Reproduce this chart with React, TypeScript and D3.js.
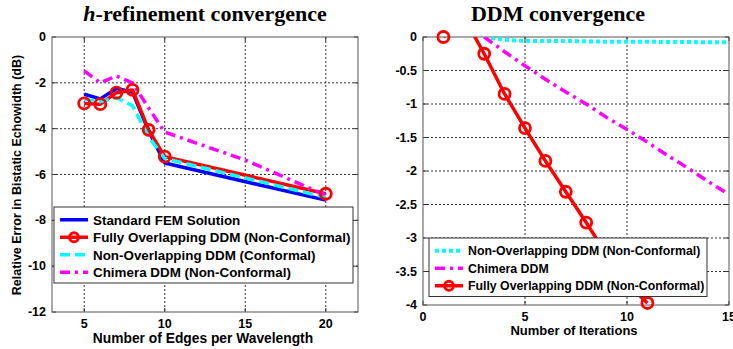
import React from 'react';
import * as d3 from 'd3';

// h-refinement data (x = edges per wavelength)
const hEdges = [5, 6, 7, 8, 9, 10, 20];
const femErr = [-2.5, -2.7, -2.25, -2.4, -4.1, -5.5, -7.12];
const fullyErr = [-2.9, -2.93, -2.43, -2.31, -4.05, -5.22, -6.84];
const nonOverlapErr = [-2.72, -2.82, -2.65, -3.0, -4.35, -5.3, -7.0];
const chimeraEdges = [5, 6, 7, 8, 9, 10, 15, 20];
const chimeraErr = [-1.48, -2.0, -1.7, -2.0, -3.1, -4.15, -5.37, -6.9];

// DDM convergence data (x = iterations)
const fullyIter = [1, 2, 3, 4, 5, 6, 7, 8, 9, 10, 11];
const fullyConv = [0, 0.3, -0.25, -0.85, -1.36, -1.85, -2.31, -2.77, -3.25, -3.68, -3.97];
const nonOverlapIter = [3, 4, 5, 6, 7, 8, 9, 10, 11, 12, 13, 14, 15];
const nonOverlapConv = [0, -0.04, -0.06, -0.06, -0.06, -0.065, -0.07, -0.07, -0.07, -0.075, -0.075, -0.08, -0.08];
const chimeraIter = [3, 4, 5, 6, 7, 8, 9, 10, 11, 12, 13, 14, 15];
const chimeraConv = [0, -0.22, -0.43, -0.63, -0.82, -1.0, -1.2, -1.38, -1.57, -1.77, -1.96, -2.16, -2.35];

const leftXTicks = [5, 10, 15, 20];
const leftYTicks = [0, -2, -4, -6, -8, -10, -12];
const rightXTicks = [0, 5, 10, 15];
const rightYTicks = [0, -0.5, -1, -1.5, -2, -2.5, -3, -3.5, -4];

const BLUE = '#0000ff';
const RED = '#ff0000';
const CYAN = '#00ffff';
const MAGENTA = '#ff00ff';
const sans = '"Liberation Sans", Arial, sans-serif';
const serif = '"Liberation Serif", "Times New Roman", serif';

type Series = { xs: number[]; ys: number[]; color: string; dash?: string; width?: number; marker?: boolean };

function Panel(props: {
  id: string;
  x: d3.ScaleLinear<number, number>;
  y: d3.ScaleLinear<number, number>;
  xTicks: number[];
  yTicks: number[];
  series: Series[];
}) {
  const { id, x, y, xTicks, yTicks, series } = props;
  const [x0, x1] = x.range();
  const [y1, y0] = y.range();
  const line = d3.line<[number, number]>().x((d) => x(d[0])).y((d) => y(d[1]));
  const [yMin, yMax] = y.domain();
  return (
    <g>
      <defs>
        <clipPath id={id}>
          <rect x={x0} y={y0} width={x1 - x0} height={y1 - y0} />
        </clipPath>
      </defs>
      <rect x={x0} y={y0} width={x1 - x0} height={y1 - y0} fill="#fff" />
      {xTicks.filter((t) => x(t) > x0 + 1 && x(t) < x1 - 1).map((t) => (
        <line key={'gx' + t} x1={x(t)} x2={x(t)} y1={y0} y2={y1} stroke="#333" strokeWidth={1} strokeDasharray="2,2" />
      ))}
      {yTicks.filter((t) => y(t) > y0 + 1 && y(t) < y1 - 1).map((t) => (
        <line key={'gy' + t} x1={x0} x2={x1} y1={y(t)} y2={y(t)} stroke="#333" strokeWidth={1} strokeDasharray="2,2" />
      ))}
      {xTicks.map((t) => (
        <g key={'tx' + t}>
          <line x1={x(t)} x2={x(t)} y1={y1} y2={y1 - 4} stroke="#333" />
          <line x1={x(t)} x2={x(t)} y1={y0} y2={y0 + 4} stroke="#333" />
          <text x={x(t)} y={y1 + 16} textAnchor="middle" fontFamily={sans} fontWeight="bold" fontSize={12.5}>
            {t}
          </text>
        </g>
      ))}
      {yTicks.map((t) => (
        <g key={'ty' + t}>
          <line x1={x0} x2={x0 + 4} y1={y(t)} y2={y(t)} stroke="#333" />
          <line x1={x1} x2={x1 - 4} y1={y(t)} y2={y(t)} stroke="#333" />
          <text x={x0 - 6} y={y(t) + 4} textAnchor="end" fontFamily={sans} fontWeight="bold" fontSize={12.5}>
            {t}
          </text>
        </g>
      ))}
      <rect x={x0} y={y0} width={x1 - x0} height={y1 - y0} fill="none" stroke="#555" strokeWidth={1} />
      <g clipPath={`url(#${id})`}>
        {series.map((s, i) => (
          <path
            key={'s' + i}
            d={line(s.xs.map((v, j) => [v, s.ys[j]] as [number, number])) || ''}
            fill="none"
            stroke={s.color}
            strokeWidth={s.width ?? 3.5}
            strokeDasharray={s.dash}
            strokeLinejoin="round"
          />
        ))}
      </g>
      {series
        .filter((s) => s.marker)
        .map((s, i) =>
          s.xs.map((v, j) =>
            s.ys[j] >= yMin && s.ys[j] <= yMax ? (
              <circle key={'m' + i + '-' + j} cx={x(v)} cy={y(s.ys[j])} r={5.5} fill="none" stroke={s.color} strokeWidth={2.8} />
            ) : null
          )
        )}
    </g>
  );
}

function Legend(props: { x: number; y: number; w: number; rowH: number; fontSize: number; items: Series[]; labels: string[] }) {
  const { x, y, w, rowH, fontSize, items, labels } = props;
  const h = rowH * items.length + 6;
  return (
    <g>
      <rect x={x} y={y} width={w} height={h} fill="#fff" stroke="#333" strokeWidth={1} />
      {items.map((s, i) => {
        const cy = y + 3 + rowH * (i + 0.5) + 1;
        return (
          <g key={i}>
            <line x1={x + 6} x2={x + 34} y1={cy} y2={cy} stroke={s.color} strokeWidth={s.width ?? 3.5} strokeDasharray={s.dash} />
            {s.marker && <circle cx={x + 20} cy={cy} r={4.5} fill="none" stroke={s.color} strokeWidth={2.8} />}
            <text x={x + 39} y={cy + fontSize * 0.36} fontFamily={sans} fontWeight="bold" fontSize={fontSize}>
              {labels[i]}
            </text>
          </g>
        );
      })}
    </g>
  );
}

export default function App() {
  const lx = d3.scaleLinear().domain([3, 22]).range([52, 358]);
  const ly = d3.scaleLinear().domain([-12, 0]).range([312, 37]);
  const rx = d3.scaleLinear().domain([0, 15]).range([423, 729]);
  const ry = d3.scaleLinear().domain([-4, 0]).range([305, 37]);

  const fem: Series = { xs: hEdges, ys: femErr, color: BLUE };
  const fully: Series = { xs: hEdges, ys: fullyErr, color: RED, marker: true };
  const nonOv: Series = { xs: hEdges, ys: nonOverlapErr, color: CYAN, dash: '10,5' };
  const chim: Series = { xs: chimeraEdges, ys: chimeraErr, color: MAGENTA, dash: '10,5,3,5' };

  const rNon: Series = { xs: nonOverlapIter, ys: nonOverlapConv, color: CYAN, width: 4, dash: '4,3' };
  const rChim: Series = { xs: chimeraIter, ys: chimeraConv, color: MAGENTA, dash: '10,5,3,5' };
  const rFully: Series = { xs: fullyIter, ys: fullyConv, color: RED, marker: true };

  return (
    <svg width={733} height={349} style={{ position: 'absolute', left: 0, top: 0, background: '#fff' }}>
      <rect width={733} height={349} fill="#fff" />
      <text x={205} y={21} textAnchor="middle" fontFamily={serif} fontWeight="bold" fontSize={22}>
        <tspan fontStyle="italic">h</tspan>-refinement convergence
      </text>
      <text x={558} y={21} textAnchor="middle" fontFamily={serif} fontWeight="bold" fontSize={22}>
        DDM convergence
      </text>

      <Panel id="clipL" x={lx} y={ly} xTicks={leftXTicks} yTicks={leftYTicks} series={[fem, fully, nonOv, chim]} />
      <Legend
        x={54}
        y={207}
        w={299}
        rowH={17.5}
        fontSize={13.4}
        items={[fem, fully, nonOv, chim]}
        labels={['Standard FEM Solution', 'Fully Overlapping DDM (Non-Conformal)', 'Non-Overlapping DDM (Conformal)', 'Chimera DDM (Non-Conformal)']}
      />
      <text x={203} y={343} textAnchor="middle" fontFamily={sans} fontWeight="bold" fontSize={13.8}>
        Number of Edges per Wavelength
      </text>
      <text transform="translate(21,175) rotate(-90)" textAnchor="middle" fontFamily={sans} fontWeight="bold" fontSize={12.5}>
        Relative Error in Bistatic Echowidth (dB)
      </text>

      <Panel id="clipR" x={rx} y={ry} xTicks={rightXTicks} yTicks={rightYTicks} series={[rNon, rChim, rFully]} />
      <Legend
        x={429}
        y={238}
        w={278}
        rowH={17.5}
        fontSize={12.3}
        items={[rNon, rChim, rFully]}
        labels={['Non-Overlapping DDM (Non-Conformal)', 'Chimera DDM', 'Fully Overlapping DDM (Non-Conformal)']}
      />
      <text x={574} y={335} textAnchor="middle" fontFamily={sans} fontWeight="bold" fontSize={13}>
        Number of Iterations
      </text>
    </svg>
  );
}
